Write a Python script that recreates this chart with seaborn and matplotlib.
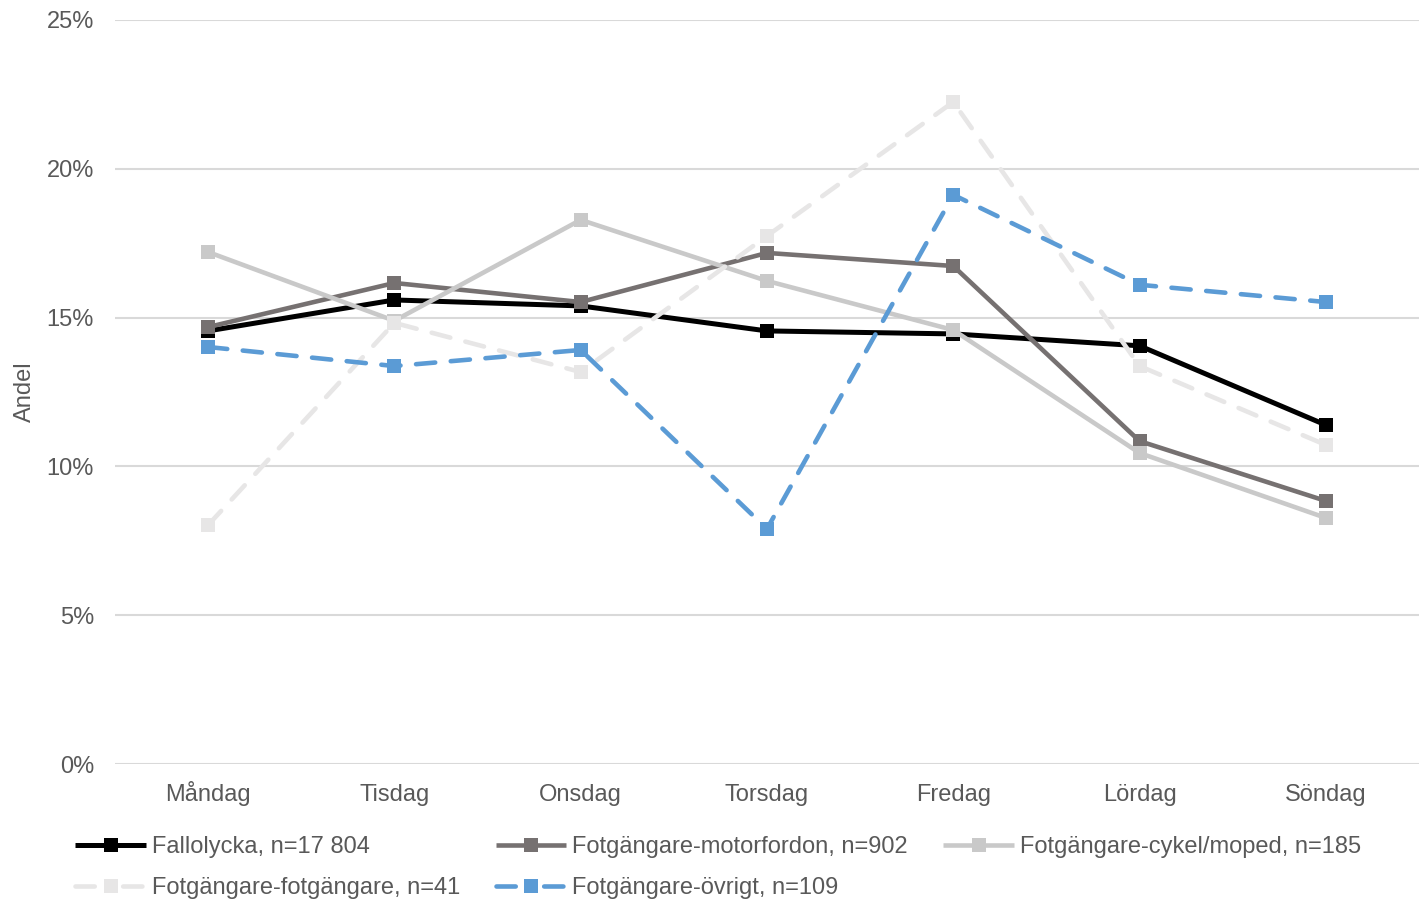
import seaborn as sns
import matplotlib.pyplot as plt
import pandas as pd
from matplotlib.lines import Line2D
from matplotlib.ticker import PercentFormatter

# Values (percent)
days = ['Måndag', 'Tisdag', 'Onsdag', 'Torsdag', 'Fredag', 'Lördag', 'Söndag']
fallolycka = [14.55, 15.59, 15.39, 14.55, 14.45, 14.05, 11.39]
motorfordon = [14.68, 16.16, 15.52, 17.17, 16.73, 10.85, 8.84]
cykel_moped = [17.20, 14.89, 18.28, 16.23, 14.58, 10.45, 8.27]
fotgangare = [8.03, 14.82, 13.17, 17.74, 22.24, 13.37, 10.72]
ovrigt = [14.01, 13.37, 13.91, 7.90, 19.12, 16.10, 15.52]

series_names = ['Fallolycka, n=17 804', 'Fotgängare-motorfordon, n=902',
                'Fotgängare-cykel/moped, n=185', 'Fotgängare-fotgängare, n=41',
                'Fotgängare-övrigt, n=109']
series_values = [fallolycka, motorfordon, cykel_moped, fotgangare, ovrigt]
colors = ['#000000', '#767171', '#C9C9C9', '#E7E6E6', '#5B9BD5']
dashed = [False, False, False, True, True]

sns.set_theme(style='white')
plt.rcParams['font.family'] = ['Liberation Sans', 'DejaVu Sans']

fig = plt.figure(figsize=(14.19, 8.99), dpi=100)
ax = fig.add_axes([0.081, 0.150, 0.919, 0.828])

handles = []
for name, vals, col, dsh in zip(series_names, series_values, colors, dashed):
    df = pd.DataFrame({'Dag': days, 'Andel': vals})
    lw = 3.6 if col == '#000000' else 3.3
    sns.lineplot(data=df, x='Dag', y='Andel', ax=ax, color=col, linewidth=lw,
                 marker='s', markersize=9.5, markeredgewidth=0, sort=False,
                 label=name, zorder=3)
    line = ax.get_lines()[-1]
    line.set_solid_capstyle('round')
    # legend proxy, so the dashed entries show dash-marker-dash like the original
    h = Line2D([], [], color=col, linewidth=lw, marker='s', markersize=9.5,
               markeredgewidth=0, solid_capstyle='butt')
    if dsh:
        line.set_dashes([4.2, 3.4])
        line.set_dash_capstyle('round')
        h.set_dashes([4.2, 6.2])
        h.set_dash_capstyle('round')
    handles.append(h)

ax.set_xlim(-0.5, 6.5)
ax.set_ylim(0, 25)
ax.set_yticks([0, 5, 10, 15, 20, 25])
ax.yaxis.set_major_formatter(PercentFormatter(decimals=0))
ax.grid(axis='y', color='#D9D9D9', linewidth=1.5, zorder=0)
ax.set_axisbelow(True)
for s in ax.spines.values():
    s.set_visible(False)
ax.tick_params(axis='both', labelsize=17, colors='#595959', length=0)
ax.tick_params(axis='y', pad=15)
ax.tick_params(axis='x', pad=26.5)
for lbl in ax.get_xticklabels():
    lbl.set_verticalalignment('baseline')
ax.set_xlabel('')
ax.set_ylabel('')
ax.get_legend().remove()
fig.text(25 / 1419, 1 - 392 / 899, 'Andel', rotation=90, ha='center',
         va='center', fontsize=17, color='#595959')

order = [0, 3, 1, 4, 2]
fig.legend([handles[i] for i in order], [series_names[i] for i in order],
           loc='upper left', bbox_to_anchor=(0.053, 0.070), ncol=3,
           frameon=False, fontsize=17, handlelength=3.0, handletextpad=0.25,
           columnspacing=1.5, labelspacing=0.8, borderpad=0, borderaxespad=0,
           labelcolor='#595959')

plt.savefig('out.png', dpi=100)
